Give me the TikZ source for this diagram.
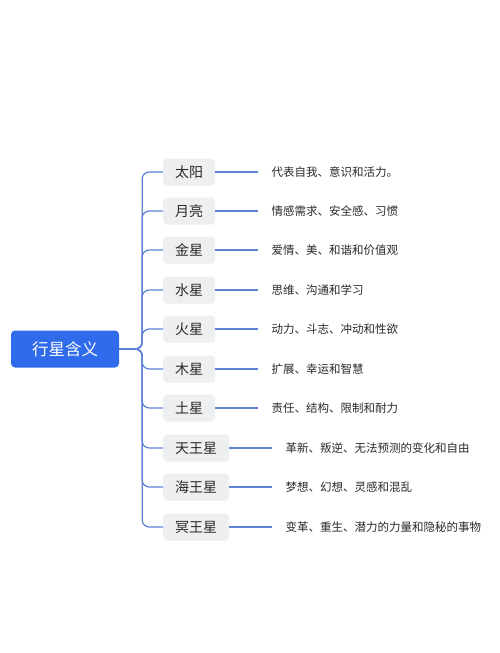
\documentclass[tikz,border=0pt]{standalone}
\usepackage{fontspec}
\setmainfont{Noto Sans CJK SC}
\usetikzlibrary{positioning}
\definecolor{rootblue}{HTML}{2F6BEA}
\definecolor{linkblue}{HTML}{5F82D4}
\definecolor{leafgray}{HTML}{EEEFF1}
\definecolor{txt}{HTML}{2A2A2A}

\begin{document}
\begin{tikzpicture}[
    x=1pt, y=1pt,
    node distance=56pt,
    root/.style={fill=rootblue, rounded corners=4pt, minimum width=108pt, minimum height=37pt,
                 text=white, font=\fontsize{16.5}{18}\selectfont},
    leaf/.style={fill=leafgray, rounded corners=4pt, minimum height=27pt, inner xsep=12pt,
                 anchor=west, text=txt, font=\fontsize{14}{16}\selectfont},
    desc/.style={inner xsep=0pt, text=txt, font=\fontsize{11.5}{13}\selectfont},
    br/.style={draw=linkblue, line width=1.2pt, rounded corners=7pt},
    ln/.style={draw=linkblue, line width=1.2pt, shorten >=13pt}
]
\useasboundingbox[fill=white] (0,0) rectangle (500,-653);
\node[root] (root) at (65,-349) {行星含义};

\node[leaf] (sun)     at (163,-172) {太阳};
\node[leaf] (moon)    at (163,-211) {月亮};
\node[leaf] (venus)   at (163,-250) {金星};
\node[leaf] (mercury) at (163,-290) {水星};
\node[leaf] (mars)    at (163,-329) {火星};
\node[leaf] (jupiter) at (163,-369) {木星};
\node[leaf] (saturn)  at (163,-408) {土星};
\node[leaf] (uranus)  at (163,-448) {天王星};
\node[leaf] (neptune) at (163,-487) {海王星};
\node[leaf] (pluto)   at (163,-527) {冥王星};

\node[desc, right=of sun]     (dsun)     {代表自我、意识和活力。};
\node[desc, right=of moon]    (dmoon)    {情感需求、安全感、习惯};
\node[desc, right=of venus]   (dvenus)   {爱情、美、和谐和价值观};
\node[desc, right=of mercury] (dmercury) {思维、沟通和学习};
\node[desc, right=of mars]    (dmars)    {动力、斗志、冲动和性欲};
\node[desc, right=of jupiter] (djupiter) {扩展、幸运和智慧};
\node[desc, right=of saturn]  (dsaturn)  {责任、结构、限制和耐力};
\node[desc, right=of uranus]  (duranus)  {革新、叛逆、无法预测的变化和自由};
\node[desc, right=of neptune] (dneptune) {梦想、幻想、灵感和混乱};
\node[desc, right=of pluto]   (dpluto)   {变革、重生、潜力的力量和隐秘的事物};

\foreach \p in {sun, moon, venus, mercury, mars, jupiter, saturn, uranus, neptune, pluto} {
   \draw[br] (root.east) -- ++(23,0) |- (\p);
   \draw[ln] (\p) -- (d\p);
}
\end{tikzpicture}
\end{document}
